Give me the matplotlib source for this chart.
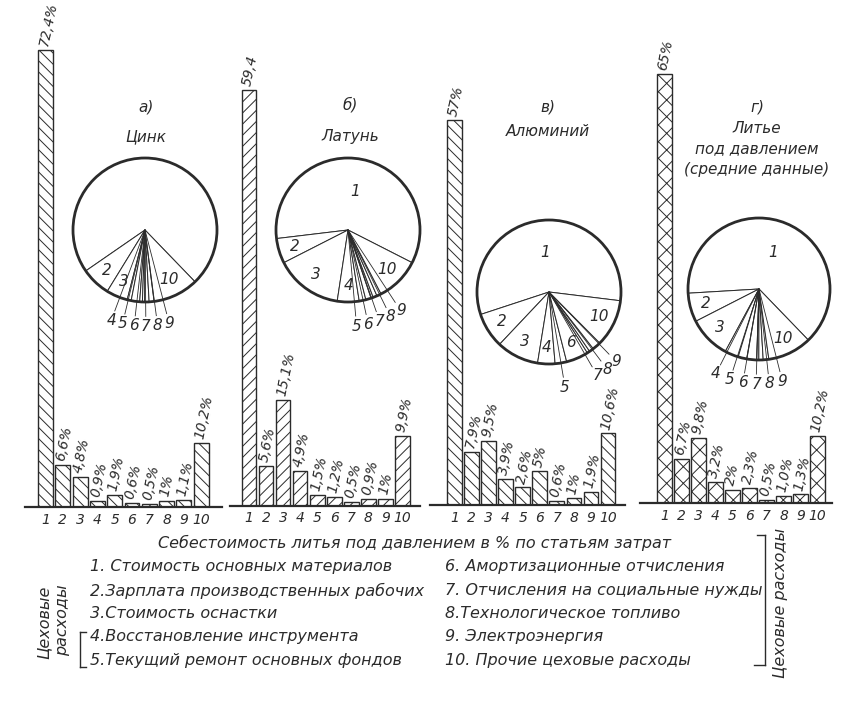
import numpy as np
import matplotlib
matplotlib.use('Agg')
import matplotlib.pyplot as plt
from matplotlib.patches import Circle
from matplotlib.lines import Line2D

INK = '#2b2b2b'
plt.rcParams['font.family'] = ['DejaVu Sans']
plt.rcParams['hatch.linewidth'] = 0.7
plt.rcParams['hatch.color'] = INK
plt.rcParams['text.color'] = INK

# ---------------- data ----------------
items = ['1', '2', '3', '4', '5', '6', '7', '8', '9', '10']
zinc = [72.4, 6.6, 4.8, 0.9, 1.9, 0.6, 0.5, 1.0, 1.1, 10.2]
brass = [59.4, 5.6, 15.1, 4.9, 1.5, 1.2, 0.5, 0.9, 1.0, 9.9]
alum = [57.0, 7.9, 9.5, 3.9, 2.6, 5.0, 0.6, 1.0, 1.9, 10.6]
avg = [65.0, 6.7, 9.8, 3.2, 2.0, 2.3, 0.5, 1.0, 1.3, 10.2]

zinc_labels = ['72,4%', '6,6%', '4,8%', '0,9%', '1,9%', '0,6%', '0,5%', '1%', '1,1%', '10,2%']
brass_labels = ['59,4', '5,6%', '15,1%', '4,9%', '1,5%', '1,2%', '0,5%', '0,9%', '1%', '9,9%']
alum_labels = ['57%', '7,9%', '9,5%', '3,9%', '2,6%', '5%', '0,6%', '1%', '1,9%', '10,6%']
avg_labels = ['65%', '6,7%', '9,8%', '3,2%', '2%', '2,3%', '0,5%', '1,0%', '1,3%', '10,2%']

panel_letters = ['а)', 'б)', 'в)', 'г)']
panel_titles = ['Цинк', 'Латунь', 'Алюминий', 'Литье\nпод давлением\n(средние данные)']

legend_title = 'Себестоимость литья под давлением в % по статьям затрат'
cost_left = ['1. Стоимость основных материалов',
             '2.Зарплата производственных рабочих',
             '3.Стоимость оснастки',
             '4.Восстановление инструмента',
             '5.Текущий ремонт основных фондов']
cost_right = ['6. Амортизационные отчисления',
              '7. Отчисления на социальные нужды',
              '8.Технологическое топливо',
              '9. Электроэнергия',
              '10. Прочие цеховые расходы']
shop_text = 'Цеховые расходы'

W, H = 850, 708
fig = plt.figure(figsize=(W / 100, H / 100), dpi=100)
fig.patch.set_facecolor('white')


def fx(x):
    return x / W


def fy(y):
    return 1 - y / H


# ---------------- bar panels ----------------
def bar_panel(x0, x1, base, c1, sp, scale, vals, labels, hatch):
    ax = fig.add_axes([fx(x0), fy(base), (x1 - x0) / W, base / H])
    ax.set_xlim(1 - (c1 - x0) / sp, 1 + (x1 - c1) / sp)
    ax.set_ylim(0, base / scale)
    ax.patch.set_alpha(0)
    xs = np.arange(1, len(vals) + 1)
    ax.bar(xs, vals, width=0.86, facecolor='white', edgecolor=INK,
           hatch=hatch, linewidth=1.0, zorder=2)
    for x, v, lab in zip(xs, vals, labels):
        ax.annotate(lab, (x, v), xytext=(-1.5, 3), textcoords='offset points',
                    rotation=78, rotation_mode='anchor', ha='left', va='center',
                    fontsize=10, style='italic', color=INK)
    for s in ['top', 'left', 'right']:
        ax.spines[s].set_visible(False)
    ax.spines['bottom'].set_linewidth(1.6)
    ax.spines['bottom'].set_color(INK)
    ax.set_yticks([])
    ax.set_xticks(xs)
    ax.set_xticklabels(items, fontsize=10, style='italic', color=INK)
    ax.tick_params(axis='x', length=0, pad=4)
    return ax


bar_panel(25, 222, 507, 45.5, 17.3, 6.31, zinc, zinc_labels, '\\\\\\')
bar_panel(230, 420, 505.5, 249, 17.05, 7.0, brass, brass_labels, '///')
bar_panel(430, 625, 505, 454.5, 17.05, 6.75, alum, alum_labels, '\\\\\\')
bar_panel(640, 832, 503, 664.5, 17.0, 6.6, avg, avg_labels, 'xx')


# ---------------- pies ----------------
def spread(angles, d):
    a = list(angles)
    for i in range(1, len(a)):
        a[i] = max(a[i], a[i - 1] + d)
    shift = np.mean(angles) - np.mean(a)
    return [v + shift for v in a]


def pie_panel(cx, cy, r, vals, start, inside, outside, sep):
    L = 1.55
    ax = fig.add_axes([fx(cx - L * r), fy(cy + L * r), 2 * L * r / W, 2 * L * r / H])
    wedges, _ = ax.pie(vals, startangle=start, counterclock=True, radius=1,
                       wedgeprops=dict(facecolor='white', edgecolor=INK, linewidth=0.7))
    ax.set_xlim(-L, L)
    ax.set_ylim(-L, L)
    ax.set_aspect('equal')
    ax.axis('off')
    ax.add_patch(Circle((0, 0), 1, fill=False, lw=2.0, ec=INK, zorder=5))
    mids = []
    for w in wedges:
        m = (w.theta1 + w.theta2) / 2
        m = (m + 180) % 360 - 180
        mids.append(m)
    # inside labels
    for i in inside:
        rr = 0.55 if i == 0 else 0.77
        a = np.radians(mids[i])
        ax.text(rr * np.cos(a), rr * np.sin(a), items[i], ha='center', va='center',
                fontsize=11, style='italic', color=INK)
    # outside labels, grouped by consecutive indices
    groups = []
    for i in outside:
        if groups and groups[-1][-1] == i - 1:
            groups[-1].append(i)
        else:
            groups.append([i])
    for g in groups:
        angs = spread([mids[i] for i in g], sep)
        for i, ang in zip(g, angs):
            a = np.radians(ang)
            ax.plot([0, 1.2 * np.cos(a)], [0, 1.2 * np.sin(a)], color=INK, lw=0.6)
            ax.text(1.34 * np.cos(a), 1.34 * np.sin(a), items[i], ha='center', va='center',
                    fontsize=11, style='italic', color=INK)
    return ax


pie_panel(145, 230, 72, zinc, -46, [1, 2, 9], [3, 4, 5, 6, 7, 8], 7)
pie_panel(348, 230, 72, brass, -27, [0, 1, 2, 3, 9], [4, 5, 6, 7, 8], 7)
pie_panel(549, 292, 72, alum, -7, [0, 1, 2, 3, 5, 9], [4, 6, 7, 8], 7)
pie_panel(759, 289, 71, avg, -46, [0, 1, 2, 9], [3, 4, 5, 6, 7, 8], 8)

# ---------------- titles ----------------
title_pos = [(146, 107, 137), (350, 105, 137), (548, 107, 131), (757, 107, 149)]
for (x, y1, y2), letter, title in zip(title_pos, panel_letters, panel_titles):
    fig.text(fx(x), fy(y1), letter, ha='center', va='center', fontsize=11,
             style='italic', color=INK)
    fig.text(fx(x), fy(y2), title, ha='center', va='center', fontsize=11,
             style='italic', color=INK, linespacing=1.45)

# ---------------- legend ----------------
fig.text(fx(415), fy(543), legend_title, ha='center', va='center', fontsize=11.5,
         style='italic', color=INK)
rows_y = [567, 591, 614, 637, 660]
for y, t in zip(rows_y, cost_left):
    fig.text(fx(90), fy(y), t, ha='left', va='center', fontsize=11.5, style='italic', color=INK)
for y, t in zip(rows_y, cost_right):
    fig.text(fx(445), fy(y), t, ha='left', va='center', fontsize=11.5, style='italic', color=INK)

# right bracket
for xs_, ys_ in [([765, 765], [535, 665]), ([757, 765], [535, 535]), ([754, 765], [665, 665])]:
    fig.add_artist(Line2D([fx(v) for v in xs_], [fy(v) for v in ys_], color=INK, lw=1.0))
fig.text(fx(780), fy(603), shop_text, rotation=90, ha='center', va='center',
         fontsize=11.5, style='italic', color=INK)

# left bracket
for xs_, ys_ in [([80, 80], [632, 667]), ([80, 86], [632, 632]), ([80, 86], [667, 667])]:
    fig.add_artist(Line2D([fx(v) for v in xs_], [fy(v) for v in ys_], color=INK, lw=1.0))
fig.text(fx(44), fy(622), 'Цеховые', rotation=90, ha='center', va='center',
         fontsize=11.5, style='italic', color=INK)
fig.text(fx(63), fy(620), 'расходы', rotation=90, ha='center', va='center',
         fontsize=11.5, style='italic', color=INK)

fig.savefig('out.png', dpi=100, facecolor='white')
